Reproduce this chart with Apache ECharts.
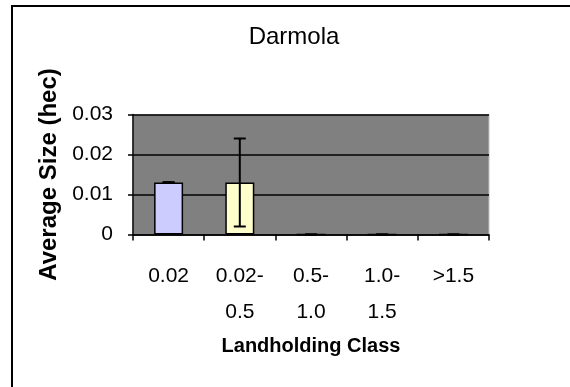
<!DOCTYPE html>
<html>
<head>
<meta charset="utf-8">
<script src="https://cdn.jsdelivr.net/npm/echarts@6/dist/echarts.min.js"></script>
<style>
  html, body { margin: 0; padding: 0; background: #fff; }
  #chart { width: 570px; height: 387px; }
</style>
</head>
<body>
<div id="chart"></div>
<script>
// Landholding classes (hectares) and the average plot size in each
const categories = ['0.02', '0.02-\n0.5', '0.5-\n1.0', '1.0-\n1.5', '>1.5'];
const averageSize = [0.013, 0.013, 0, 0, 0];
const errorAmount = [0.0001, 0.011, 0, 0, 0];
const barColors = ['#CCCCFF', '#FFFFCC', '#CCCCFF', '#FFFFCC', '#CCCCFF'];

// Value axis range
const yMin = 0;
const yMax = 0.03;
const yStep = 0.01;

const FONT = '"Liberation Sans", Arial, Helvetica, sans-serif';

const chart = echarts.init(document.getElementById('chart'), null, { renderer: 'canvas' });

const barData = averageSize.map((v, i) => ({
  value: v,
  itemStyle: { color: barColors[i] }
}));
const errorData = averageSize.map((v, i) => [i, v - errorAmount[i], v + errorAmount[i]]);

chart.setOption({
  animation: false,
  backgroundColor: '#ffffff',
  title: {
    text: 'Darmola',
    left: 294,
    top: 25,
    textAlign: 'center',
    padding: 0,
    textStyle: { fontFamily: FONT, fontSize: 24, fontWeight: 'normal', color: '#000' }
  },
  graphic: [{
    type: 'rect',
    shape: { x: 12, y: 6, width: 620, height: 420 },
    style: { fill: 'none', stroke: '#000', lineWidth: 2 },
    silent: true
  }],
  grid: {
    left: 133, top: 114.5, right: 81, bottom: 152.5,
    show: true,
    backgroundColor: '#808080',
    borderColor: '#c0c0c0',
    borderWidth: 1
  },
  xAxis: {
    type: 'category',
    data: categories,
    name: 'Landholding Class',
    nameLocation: 'middle',
    nameGap: 102,
    nameTextStyle: { fontFamily: FONT, fontSize: 20, fontWeight: 'bold', color: '#000' },
    axisLine: { lineStyle: { color: '#000', width: 1.5 } },
    axisTick: { show: true, length: 6, lineStyle: { color: '#000', width: 1.5 } },
    axisLabel: {
      fontFamily: FONT, fontSize: 21, color: '#000',
      margin: 24, lineHeight: 36, interval: 0
    }
  },
  yAxis: {
    type: 'value',
    min: yMin, max: yMax, interval: yStep,
    name: 'Average Size (hec)',
    nameLocation: 'middle',
    nameGap: 71,
    nameTextStyle: { fontFamily: FONT, fontSize: 24, fontWeight: 'bold', color: '#000' },
    axisLine: { show: true, lineStyle: { color: '#000', width: 1.5 } },
    axisTick: { show: true, length: 5, lineStyle: { color: '#000', width: 1.5 } },
    axisLabel: {
      fontFamily: FONT, fontSize: 21, color: '#000', margin: 20,
      formatter: v => (v === 0 ? '0' : v.toFixed(2))
    },
    splitLine: { show: true, lineStyle: { color: '#000', width: 1.5 } }
  },
  series: [
    {
      type: 'bar',
      data: barData,
      barWidth: 29,
      itemStyle: { borderColor: '#000', borderWidth: 1.5 },
      z: 2
    },
    {
      type: 'custom',
      data: errorData,
      z: 3,
      renderItem: function (params, api) {
        const x = api.value(0);
        const lo = api.coord([x, api.value(1)]);
        const hi = api.coord([x, api.value(2)]);
        const half = 6;
        const style = { stroke: '#000', lineWidth: 2 };
        return {
          type: 'group',
          children: [
            { type: 'line', shape: { x1: hi[0], y1: hi[1], x2: lo[0], y2: lo[1] }, style: style },
            { type: 'line', shape: { x1: hi[0] - half, y1: hi[1], x2: hi[0] + half, y2: hi[1] }, style: style },
            { type: 'line', shape: { x1: lo[0] - half, y1: lo[1], x2: lo[0] + half, y2: lo[1] }, style: style }
          ]
        };
      }
    }
  ]
});
</script>
</body>
</html>
